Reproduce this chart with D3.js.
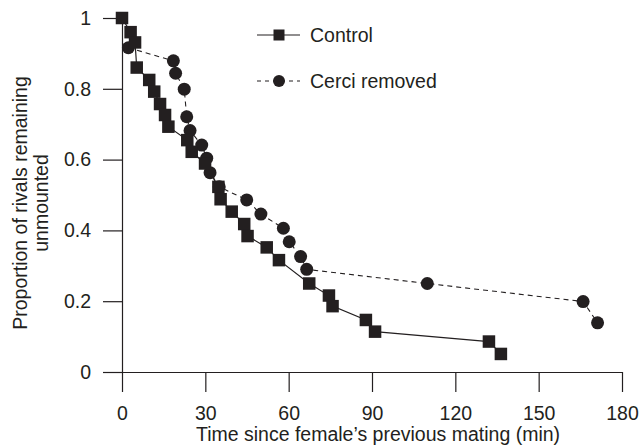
<!DOCTYPE html>
<html>
<head>
<meta charset="utf-8">
<script src="https://cdn.jsdelivr.net/npm/d3@7"></script>
<style>
  body { margin: 0; background: #fff; }
  svg { display: block; font-family: "Liberation Sans", Arial, sans-serif; }
</style>
</head>
<body>
<div id="chart"></div>
<script>
// Control (squares): time (min), proportion unmounted
const controlTime = [0, 3.1, 4.7, 5.3, 9.8, 11.6, 13.7, 15.5, 16.7, 23.5, 25.1, 29.9, 34.7, 35.5, 39.5, 44, 45.2, 52.1, 56.5, 67.4, 74.5, 75.8, 87.8, 91.1, 132.1, 136.4];
const controlProp = [1.0, 0.96, 0.931, 0.86, 0.825, 0.792, 0.757, 0.726, 0.693, 0.655, 0.622, 0.589, 0.523, 0.488, 0.453, 0.418, 0.384, 0.352, 0.316, 0.25, 0.216, 0.186, 0.147, 0.114, 0.086, 0.051];

// Cerci removed (circles)
const cerciTime = [2.3, 18.5, 19.3, 22.4, 23.3, 24.5, 28.7, 30.5, 31.7, 35, 44.9, 50, 58.1, 60.2, 64.3, 66.5, 109.9, 166, 171.2];
const cerciProp = [0.916, 0.879, 0.844, 0.799, 0.721, 0.682, 0.641, 0.604, 0.563, 0.523, 0.486, 0.446, 0.406, 0.368, 0.326, 0.29, 0.25, 0.199, 0.139];

const xTicks = [0, 30, 60, 90, 120, 150, 180];
const yTicks = [0, 0.2, 0.4, 0.6, 0.8, 1];
const legendLabels = ['Control', 'Cerci removed'];

const W = 642, H = 445;
const ink = '#231f20';
const fs = '19.5px';

const svg = d3.select('#chart').append('svg')
  .attr('width', W).attr('height', H);

const x = d3.scaleLinear().domain([0, 180]).range([122, 622]);
const y = d3.scaleLinear().domain([0, 1]).range([372, 18]);

// X axis
const xAxis = svg.append('g')
  .attr('transform', `translate(0,${y(0)})`)
  .call(d3.axisBottom(x).tickValues(xTicks).tickSize(20).tickPadding(14).tickSizeOuter(0).tickFormat(d3.format('d')));
xAxis.select('.domain').attr('stroke', ink).attr('stroke-width', 1.2);
xAxis.selectAll('.tick line').attr('stroke', ink).attr('stroke-width', 1.2);
xAxis.selectAll('.tick text').attr('fill', ink).style('font-size', fs)
  .style('font-family', '"Liberation Sans", Arial, sans-serif');

// Y axis
const yAxis = svg.append('g')
  .attr('transform', `translate(${x(0)},0)`)
  .call(d3.axisLeft(y).tickValues(yTicks).tickSize(19).tickPadding(12).tickSizeOuter(0)
    .tickFormat(d => d === 0 || d === 1 ? d3.format('d')(d) : d3.format('.1f')(d)));
yAxis.select('.domain').attr('stroke', ink).attr('stroke-width', 1.2);
yAxis.selectAll('.tick line').attr('stroke', ink).attr('stroke-width', 1.2);
yAxis.selectAll('.tick text').attr('fill', ink).style('font-size', fs)
  .style('font-family', '"Liberation Sans", Arial, sans-serif');

// Axis titles
svg.append('text')
  .attr('x', 378).attr('y', 441)
  .attr('text-anchor', 'middle')
  .attr('fill', ink).style('font-size', fs)
  .text('Time since female\u2019s previous mating (min)');

const yTitle = svg.append('text')
  .attr('transform', 'translate(0,203) rotate(-90)')
  .attr('text-anchor', 'middle')
  .attr('fill', ink).style('font-size', fs);
yTitle.append('tspan').attr('x', 0).attr('y', 27).text('Proportion of rivals remaining');
yTitle.append('tspan').attr('x', 0).attr('y', 48).text('unmounted');

const control = controlTime.map((t, i) => [t, controlProp[i]]);
const cerci = cerciTime.map((t, i) => [t, cerciProp[i]]);

const line = d3.line().x(d => x(d[0])).y(d => y(d[1]));

svg.append('path').datum(cerci)
  .attr('fill', 'none').attr('stroke', ink).attr('stroke-width', 1.1)
  .attr('stroke-dasharray', '5,4').attr('d', line);

svg.append('path').datum(control)
  .attr('fill', 'none').attr('stroke', ink).attr('stroke-width', 1.2)
  .attr('d', line);

svg.selectAll('circle.cerci').data(cerci).enter().append('circle')
  .attr('class', 'cerci')
  .attr('cx', d => x(d[0])).attr('cy', d => y(d[1]))
  .attr('r', 6.5).attr('fill', ink);

const sq = 12.5;
svg.selectAll('rect.control').data(control).enter().append('rect')
  .attr('class', 'control')
  .attr('x', d => x(d[0]) - sq / 2).attr('y', d => y(d[1]) - sq / 2)
  .attr('width', sq).attr('height', sq).attr('fill', ink);

// Legend
const legend = svg.append('g');
legend.append('line').attr('x1', 257).attr('x2', 300).attr('y1', 35).attr('y2', 35)
  .attr('stroke', ink).attr('stroke-width', 1.2);
legend.append('rect').attr('x', 279 - 5.5).attr('y', 35 - 5.5).attr('width', 11).attr('height', 11).attr('fill', ink);
legend.append('text').attr('x', 310).attr('y', 42).attr('fill', ink).style('font-size', fs).text(legendLabels[0]);

legend.append('line').attr('x1', 257).attr('x2', 300).attr('y1', 81).attr('y2', 81)
  .attr('stroke', ink).attr('stroke-width', 1.1).attr('stroke-dasharray', '4,4');
legend.append('circle').attr('cx', 279).attr('cy', 81).attr('r', 6).attr('fill', ink);
legend.append('text').attr('x', 310).attr('y', 88).attr('fill', ink).style('font-size', fs).text(legendLabels[1]);
</script>
</body>
</html>
